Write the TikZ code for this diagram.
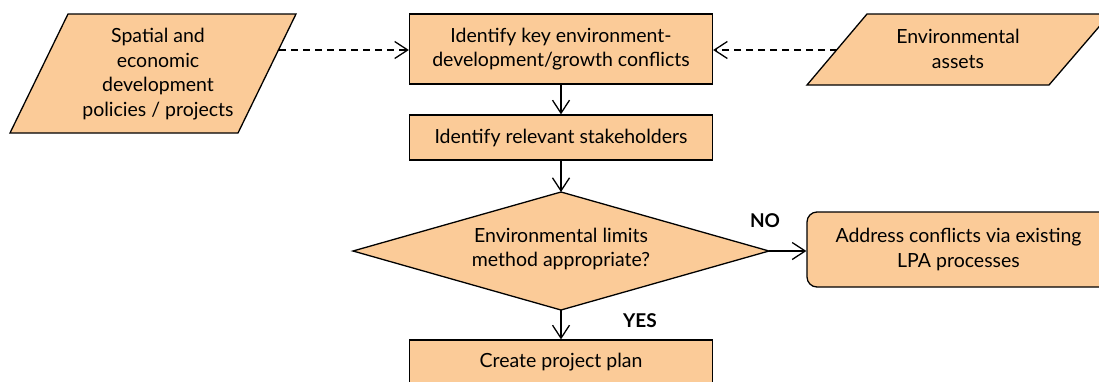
\documentclass[tikz,border=0pt]{standalone}
\usepackage{fontspec}
\setmainfont{Lato}
\usetikzlibrary{arrows.meta,shapes.geometric}
\definecolor{peach}{RGB}{251,203,152}
\begin{document}
\begin{tikzpicture}[x=1pt,y=-1pt,
  every node/.style={font=\fontsize{19.5}{24.7}\selectfont},
  shp/.style={draw,fill=peach,line width=1.3pt,line join=miter},
  box/.style={shp,minimum width=303pt,inner sep=0pt,align=center},
  lbl/.style={font=\fontsize{19}{22}\selectfont\bfseries},
  arr/.style={line width=1.3pt,-{Straight Barb[length=13pt,width=17pt,line width=1.3pt]}},
  dasharr/.style={arr,dash pattern=on 7pt off 5pt}]
\useasboundingbox (0,0) rectangle (1099,381);
% left parallelogram
\draw[shp] (10,133) -- (68,14) -- (296,14) -- (238,133) -- cycle;
\node[align=center] (lp) at (158,74) {Spatial and\\economic\\development\\policies / projects};
\coordinate (lpr) at (279,50);
% right parallelogram
\draw[shp] (807,85) -- (867,14) -- (1110,14) -- (1049,85) -- cycle;
\node[align=center] (rp) at (958,49) {Environmental\\assets};
\coordinate (rpl) at (837,50);
% boxes
\node[box,minimum height=70pt] (b1) at (561,49) {Identify key environment-\\development/growth conflicts};
\node[box,minimum height=45pt] (b2) at (561,137.5) {Identify relevant stakeholders};
% diamond
\coordinate (dN) at (561,192);
\coordinate (dS) at (561,310);
\coordinate (dW) at (353,251);
\coordinate (dE) at (769,251);
\draw[shp] (dN) -- (dE) -- (dS) -- (dW) -- cycle;
\node[align=center] (d) at (561,249) {Environmental limits\\method appropriate?};
\node[box,minimum height=45pt] (b3) at (561,362.5) {Create project plan};
\node[box,rounded corners=10pt,minimum height=75pt] (ab) at (958.5,249.5) {Address conflicts via existing\\LPA processes};
% labels
\node[lbl] (no) at (765,221) {NO};
\node[lbl] (yes) at (640,321) {YES};
% connectors
\draw[dasharr] (lpr) -- (lpr -| b1.west);
\draw[dasharr] (rpl) -- (rpl -| b1.east);
\draw[arr] (b1) -- (b2);
\draw[arr] (b2) -- (dN);
\draw[arr] (dS) -- (b3);
\draw[arr] (dE) -- (dE -| ab.west);
\end{tikzpicture}
\end{document}
